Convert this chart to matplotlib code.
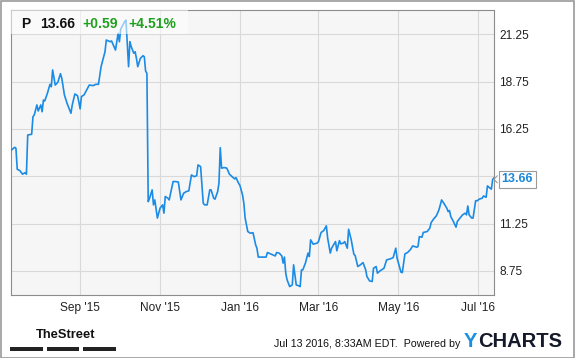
import matplotlib
matplotlib.use("Agg")
import matplotlib.pyplot as plt
import pandas as pd
from matplotlib.patches import Rectangle, Polygon
from matplotlib import font_manager

# ---------------- data ----------------
dates = [
    "2015-07-10", "2015-07-13", "2015-07-14", "2015-07-15", "2015-07-17", "2015-07-19", "2015-07-21",
    "2015-07-22", "2015-07-23", "2015-07-26", "2015-07-27", "2015-07-28", "2015-07-30", "2015-07-31",
    "2015-08-02", "2015-08-03", "2015-08-04", "2015-08-05", "2015-08-07", "2015-08-09", "2015-08-10",
    "2015-08-11", "2015-08-13", "2015-08-15", "2015-08-17", "2015-08-18", "2015-08-20", "2015-08-22",
    "2015-08-25", "2015-08-26", "2015-08-28", "2015-08-30", "2015-08-31",
    "2015-09-01", "2015-09-02", "2015-09-04", "2015-09-06", "2015-09-08", "2015-09-11", "2015-09-13",
    "2015-09-15", "2015-09-17", "2015-09-20", "2015-09-21", "2015-09-24", "2015-09-25", "2015-09-28",
    "2015-09-30",
    "2015-10-01", "2015-10-02", "2015-10-05", "2015-10-06", "2015-10-08", "2015-10-09", "2015-10-10",
    "2015-10-12", "2015-10-13", "2015-10-14", "2015-10-15", "2015-10-17", "2015-10-19", "2015-10-20",
    "2015-10-21", "2015-10-22", "2015-10-23", "2015-10-24", "2015-10-26", "2015-10-27", "2015-10-28",
    "2015-10-30",
    "2015-11-01", "2015-11-03", "2015-11-04", "2015-11-05", "2015-11-07", "2015-11-08", "2015-11-11",
    "2015-11-13", "2015-11-15", "2015-11-17", "2015-11-19", "2015-11-21", "2015-11-23", "2015-11-25",
    "2015-11-27", "2015-11-29", "2015-11-30",
    "2015-12-02", "2015-12-04", "2015-12-05", "2015-12-07", "2015-12-09", "2015-12-10", "2015-12-12",
    "2015-12-13", "2015-12-15", "2015-12-16", "2015-12-17", "2015-12-18", "2015-12-20", "2015-12-22",
    "2015-12-24", "2015-12-26", "2015-12-28", "2015-12-29", "2015-12-31",
    "2016-01-01", "2016-01-03", "2016-01-04", "2016-01-05", "2016-01-07", "2016-01-09", "2016-01-11",
    "2016-01-13", "2016-01-14", "2016-01-15", "2016-01-18", "2016-01-21", "2016-01-22", "2016-01-25",
    "2016-01-26", "2016-01-28", "2016-01-29", "2016-01-31",
    "2016-02-02", "2016-02-03", "2016-02-04", "2016-02-05", "2016-02-06", "2016-02-08", "2016-02-10",
    "2016-02-11", "2016-02-13", "2016-02-15", "2016-02-16", "2016-02-17", "2016-02-18", "2016-02-20",
    "2016-02-22", "2016-02-23", "2016-02-24", "2016-02-26", "2016-02-27", "2016-02-29",
    "2016-03-01", "2016-03-03", "2016-03-05", "2016-03-07", "2016-03-08", "2016-03-10", "2016-03-11",
    "2016-03-13", "2016-03-14", "2016-03-15", "2016-03-17", "2016-03-18", "2016-03-20", "2016-03-21",
    "2016-03-23", "2016-03-24", "2016-03-26", "2016-03-28", "2016-03-29", "2016-03-31",
    "2016-04-02", "2016-04-04", "2016-04-06", "2016-04-07", "2016-04-09", "2016-04-11", "2016-04-12",
    "2016-04-14", "2016-04-15", "2016-04-17", "2016-04-20", "2016-04-22", "2016-04-25", "2016-04-27",
    "2016-04-29", "2016-04-30",
    "2016-05-03", "2016-05-04", "2016-05-06", "2016-05-08", "2016-05-10", "2016-05-12", "2016-05-15",
    "2016-05-16", "2016-05-17", "2016-05-19", "2016-05-20", "2016-05-23", "2016-05-25", "2016-05-26",
    "2016-05-28", "2016-05-30",
    "2016-06-01", "2016-06-03", "2016-06-05", "2016-06-07", "2016-06-08", "2016-06-09", "2016-06-10",
    "2016-06-12", "2016-06-14", "2016-06-15", "2016-06-17", "2016-06-19", "2016-06-21", "2016-06-22",
    "2016-06-23", "2016-06-24", "2016-06-26", "2016-06-27", "2016-06-29", "2016-06-30",
    "2016-07-02", "2016-07-04", "2016-07-05", "2016-07-07", "2016-07-08", "2016-07-10", "2016-07-11",
    "2016-07-12", "2016-07-13",
]

prices = [
    15.10, 15.28, 15.23, 14.12, 14.05, 13.86, 13.94, 13.86, 15.93, 15.97, 16.90, 16.99, 17.52, 17.20,
    17.52, 17.16, 17.78, 17.73, 18.13, 18.61, 18.48, 19.37, 18.57, 18.72, 19.17, 18.93, 18.05, 17.61,
    17.08, 17.52, 18.10, 18.01, 17.69,
    17.31, 17.96, 18.05, 18.31, 18.57, 18.54, 18.61, 18.61, 19.54, 20.33, 20.95, 20.86, 20.90, 20.42,
    21.30,
    20.86, 21.53, 21.92, 22.00, 19.54, 20.86, 20.60, 20.25, 20.33, 19.98, 19.54, 19.98, 20.12, 20.07,
    19.31, 19.19, 12.41, 12.59, 13.03, 12.24, 12.50, 11.54,
    12.06, 12.24, 11.80, 12.68, 12.59, 12.50, 13.47, 13.47, 13.44, 12.50, 12.85, 12.94, 12.98, 13.82,
    13.73, 13.78, 14.35,
    14.26, 12.33, 12.24, 12.24, 13.03, 13.03, 12.59, 12.54, 12.94, 13.38, 15.26, 14.18, 14.21, 14.18,
    13.86, 13.73, 13.61, 13.68, 13.38,
    13.27, 12.77, 12.33, 11.54, 10.83, 10.74, 10.77, 10.13, 9.95, 9.48, 9.48, 9.48, 9.72, 9.63,
    9.60, 9.54, 9.72, 9.69,
    9.54, 9.16, 9.48, 8.63, 8.28, 7.92, 8.01, 9.07, 8.01, 7.96, 7.92, 8.80, 8.80, 9.16,
    9.69, 9.51, 10.39, 10.16, 10.18, 10.22,
    10.30, 10.78, 10.88, 11.13, 10.48, 9.69, 9.95, 10.18, 10.30, 9.81, 10.35, 10.18, 10.22, 10.30,
    9.95, 10.95, 10.39, 9.63, 9.56, 8.98,
    9.07, 9.19, 8.81, 8.45, 8.22, 8.19, 8.89, 8.98, 8.63, 8.75, 8.89, 9.33, 9.39, 9.45,
    9.95, 9.42,
    8.68, 8.66, 9.65, 9.72, 9.86, 10.07, 10.00, 10.04, 10.56, 10.53, 10.78, 10.83, 11.01, 11.30,
    11.50, 11.66,
    11.98, 12.50, 12.29, 12.06, 11.88, 11.94, 11.62, 11.36, 11.06, 11.36, 11.54, 11.71, 11.80, 11.71,
    12.18, 11.71, 11.54, 11.54, 12.46, 12.45,
    12.55, 12.59, 12.71, 12.64, 13.24, 13.12, 13.07, 13.59, 13.66,
]

ticker = "P"
last_price = "13.66"
change = "+0.59"
change_pct = "+4.51%"

y_ticks = [8.75, 11.25, 13.75, 16.25, 18.75, 21.25]
y_tick_labels = ["8.75", "11.25", "", "16.25", "18.75", "21.25"]
x_ticks = ["2015-09-01", "2015-11-01", "2016-01-01", "2016-03-01", "2016-05-01", "2016-07-01"]
x_tick_labels = ["Sep '15", "Nov '15", "Jan '16", "Mar '16", "May '16", "Jul '16"]

footer_text = "Jul 13 2016, 8:33AM EDT.  Powered by"

# ---------------- layout ----------------
W, H = 575, 358
FONT = ["Liberation Sans", "DejaVu Sans"]
plt.rcParams["font.family"] = FONT

avail = {f.name for f in font_manager.fontManager.ttflist}
narrow = ["Liberation Sans Narrow", "Liberation Sans"] if "Liberation Sans Narrow" in avail else ["Liberation Sans"]
street_size = 11 if "Liberation Sans Narrow" in avail else 9.3


def fx(x):
    return x / W


def fy(y):
    return 1 - y / H


fig = plt.figure(figsize=(W / 100, H / 100), dpi=100)
fig.patch.set_facecolor("white")

L, R, T, B = 10.7, 494.0, 10.3, 295.3
ax = fig.add_axes([fx(L), fy(B), (R - L) / W, (B - T) / H])
ax.set_facecolor("#f6f6f6")

x = pd.to_datetime(dates)
ax.plot(x, prices, color="#1b8be6", lw=1.2, zorder=3, solid_joinstyle="round")

ax.set_xlim(pd.Timestamp("2015-07-10"), pd.Timestamp("2016-07-13"))
ax.set_ylim(7.46, 22.52)

ax.set_xticks(pd.to_datetime(x_ticks))
ax.set_xticklabels(x_tick_labels)
ax.set_yticks(y_ticks)
ax.set_yticklabels(y_tick_labels)
ax.yaxis.tick_right()
ax.tick_params(axis="both", length=0, labelsize=8.6, labelcolor="#222222")
ax.tick_params(axis="y", pad=3.6)
ax.tick_params(axis="x", pad=4.5)
ax.grid(True, color="#d9d9d9", lw=0.8, zorder=1)
ax.set_axisbelow(True)
for s in ax.spines.values():
    s.set_color("#8c8c8c")
    s.set_linewidth(0.8)

# header box (semi-transparent)
ax.add_patch(Rectangle((fx(L), fy(34.0)), fx(188) - fx(L), fy(T) - fy(34.0),
                       transform=fig.transFigure, facecolor="white", alpha=0.55,
                       edgecolor="none", zorder=4))
hy = fy(24.3)
fig.text(fx(21.5), hy, ticker, fontsize=10, fontweight="bold", color="#111111", va="center", zorder=6)
fig.text(fx(40), hy, last_price, fontsize=10, fontweight="bold", color="#111111", va="center", zorder=6)
fig.text(fx(82.7), hy, change, fontsize=10, fontweight="bold", color="#1fa01f", va="center", zorder=6)
fig.text(fx(128.3), hy, change_pct, fontsize=10, fontweight="bold", color="#1fa01f", va="center", zorder=6)

# last price callout
fig.text(fx(517), fy(179.5), last_price, fontsize=9, fontweight="bold", color="#1b87d8",
         ha="center", va="center", zorder=8,
         bbox=dict(boxstyle="square,pad=0.22", fc="white", ec="#9a9a9a", lw=0.8))
fig.patches.append(Polygon([(fx(497.6), fy(175.5)), (fx(493.8), fy(179.3)), (fx(497.6), fy(183.1))],
                           closed=False, transform=fig.transFigure, fill=False,
                           edgecolor="#9a9a9a", lw=0.8, zorder=9))

# footer
fig.text(fx(36), fy(335), "TheStreet", fontsize=street_size, fontweight="bold", family=narrow,
         color="#111111", va="center", ha="left")
for x0, x1 in [(10, 42.7), (47, 79), (83.3, 116)]:
    fig.patches.append(Rectangle((fx(x0), fy(350.7)), fx(x1) - fx(x0), fy(347.3) - fy(350.7),
                                 transform=fig.transFigure, facecolor="#222222", edgecolor="none"))

fig.text(fx(460), fy(344.3), footer_text, fontsize=7.7, color="#111111", ha="right", va="center")
fig.text(fx(463.3), fy(341.5), "Y", fontsize=14.5, fontweight="bold", color="#1a8fdd", ha="left", va="center")
fig.text(fx(478.5), fy(341.5), "CHARTS", fontsize=14.5, fontweight="bold", color="#151a2b", ha="left", va="center")

# outer border
fig.patches.append(Rectangle((0.5 / W, 0.5 / H), 1 - 1.5 / W, 1 - 1.5 / H, transform=fig.transFigure,
                             fill=False, edgecolor="#9a9a9a", lw=1.2))

fig.savefig("out.png", dpi=100, facecolor="white")
